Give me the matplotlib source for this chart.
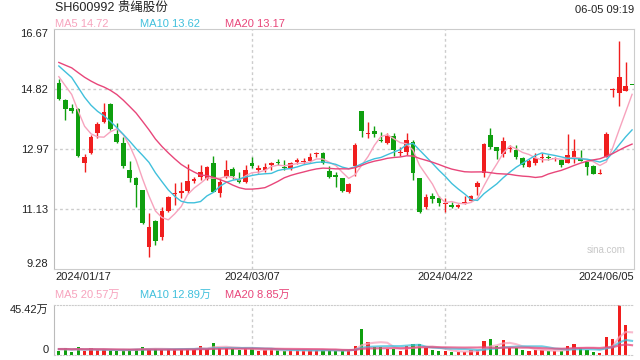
import pandas as pd
import matplotlib
matplotlib.use("Agg")
import matplotlib.pyplot as plt

plt.rcParams['font.family'] = ['Liberation Sans', 'Noto Sans CJK SC', 'DejaVu Sans']

# daily K-line, 2024/01/17 .. 2024/06/05
opens = [15.00, 14.48, 14.25, 14.21, 12.55, 12.86, 13.48, 13.80, 14.36, 13.44,
         13.17, 12.33, 12.09, 11.71, 9.97, 10.76, 10.28, 11.08, 11.60, 11.61,
         11.69, 12.00, 12.10, 12.05, 12.55, 11.61, 12.10, 12.36, 12.04, 11.97,
         12.53, 12.33, 12.33, 12.48, 12.59, 12.43, 12.38, 12.59, 12.58, 12.61,
         12.82, 12.86, 12.30, 12.17, 12.07, 11.66, 12.46, 14.15, 13.44, 13.53,
         13.26, 13.17, 13.37, 12.84, 12.89, 13.20, 12.07, 11.18, 11.53, 11.46,
         11.29, 11.25, 11.18, 11.30, 11.38, 11.80, 12.25, 13.41, 13.03, 12.82,
         12.97, 12.94, 12.69, 12.43, 12.53, 12.69, 12.74, 12.66, 12.64, 12.55,
         12.74, 12.71, 12.56, 12.46, 12.20, 12.74, 14.80, 14.69, 14.77, 14.95]
highs = [15.12, 14.50, 14.36, 14.23, 12.81, 13.41, 13.82, 14.38, 14.38, 13.77,
         13.35, 12.61, 12.12, 11.72, 11.00, 10.78, 11.20, 11.53, 11.92, 11.97,
         12.51, 12.12, 12.49, 12.45, 12.76, 12.07, 12.64, 12.43, 12.28, 12.48,
         12.74, 12.48, 12.53, 12.58, 12.66, 12.64, 12.56, 12.69, 12.71, 12.84,
         12.89, 12.89, 12.46, 12.28, 12.07, 11.92, 13.15, 14.16, 13.82, 13.67,
         13.51, 13.48, 13.46, 13.05, 13.46, 13.25, 12.07, 11.58, 11.61, 11.53,
         11.46, 11.35, 11.27, 11.52, 11.56, 12.00, 13.17, 13.63, 13.05, 13.35,
         13.10, 13.10, 12.72, 12.66, 12.86, 12.84, 12.79, 12.74, 12.66, 13.44,
         13.28, 12.94, 12.59, 12.48, 12.35, 13.51, 14.84, 16.31, 15.64, 14.95]
lows = [14.49, 13.87, 14.07, 12.72, 12.28, 12.83, 13.32, 13.78, 13.55, 13.16,
        12.38, 11.97, 11.20, 10.67, 9.66, 10.02, 10.17, 11.05, 11.25, 11.46,
        11.61, 11.94, 12.03, 12.03, 11.64, 11.51, 12.07, 12.04, 11.92, 11.92,
        12.38, 12.23, 12.28, 12.33, 12.48, 12.33, 12.33, 12.51, 12.51, 12.56,
        12.74, 12.50, 12.07, 11.82, 11.66, 11.62, 12.14, 13.34, 13.30, 13.34,
        13.20, 13.14, 12.75, 12.77, 12.79, 12.02, 11.00, 11.12, 11.32, 11.22,
        11.05, 11.15, 11.15, 11.27, 11.36, 11.56, 12.10, 12.97, 12.66, 12.74,
        12.89, 12.66, 12.41, 12.41, 12.48, 12.58, 12.63, 12.61, 12.41, 12.53,
        12.53, 12.61, 12.17, 12.20, 12.20, 12.72, 14.58, 14.30, 14.77, 14.94]
closes = [14.51, 14.21, 14.15, 12.76, 12.74, 13.35, 13.75, 14.10, 13.58, 13.20,
          12.45, 12.07, 11.87, 10.69, 10.56, 10.14, 11.07, 11.51, 11.62, 11.68,
          11.99, 12.05, 12.26, 12.43, 11.66, 11.97, 12.33, 12.14, 11.97, 12.33,
          12.46, 12.40, 12.43, 12.55, 12.54, 12.38, 12.53, 12.64, 12.61, 12.72,
          12.84, 12.53, 12.12, 12.12, 11.69, 11.89, 13.10, 13.54, 13.48, 13.44,
          13.23, 13.38, 12.94, 12.87, 13.25, 12.25, 11.05, 11.51, 11.43, 11.32,
          11.32, 11.20, 11.25, 11.35, 11.53, 11.94, 13.13, 13.05, 12.92, 13.22,
          13.00, 12.72, 12.48, 12.61, 12.69, 12.72, 12.71, 12.69, 12.48, 12.79,
          12.91, 12.61, 12.41, 12.20, 12.21, 13.44, 14.82, 15.18, 14.91, 14.94]
# volume, 万手
volumes = [3.6, 6.0, 2.7, 7.2, 3.6, 6.0, 4.5, 4.5, 4.5, 3.6,
           4.5, 5.1, 5.7, 7.2, 4.8, 5.4, 4.8, 5.1, 5.4, 5.4,
           5.4, 5.7, 8.1, 5.4, 10.8, 6.6, 6.6, 5.1, 4.2, 6.3,
           5.7, 3.3, 4.5, 5.1, 4.2, 3.6, 4.2, 4.2, 4.2, 4.5,
           4.5, 4.5, 4.5, 3.9, 3.6, 4.5, 8.1, 24.0, 11.7, 7.5,
           6.9, 5.7, 5.1, 3.6, 8.1, 9.9, 9.9, 6.6, 4.5, 3.6,
           3.6, 2.7, 2.7, 3.0, 4.5, 4.5, 12.6, 14.4, 8.1, 13.5,
           6.6, 6.6, 4.5, 3.6, 4.5, 4.5, 3.6, 3.6, 3.6, 8.1,
           9.9, 6.0, 4.5, 3.0, 1.8, 16.2, 14.4, 45.42, 27.0, 0.0]

# days before 01/17, only used so the moving averages start at the left edge
prev_closes = [15.9, 15.8, 15.7, 15.6, 15.7, 15.8, 15.7, 15.6, 15.8, 15.9,
               16.0, 15.9, 15.8, 15.8, 15.8, 15.6, 15.5, 15.3, 15.1]
prev_vols = [5.5, 6.0, 5.0, 5.5, 6.5, 5.0, 5.5, 6.0, 5.0, 5.5,
             6.0, 5.5, 5.0, 6.0, 5.5, 6.0, 5.5, 5.0, 5.5]

date_labels = ['2024/01/17', '2024/03/07', '2024/04/22', '2024/06/05']
date_idx = [0, 30, 60, 89]
price_ticks = [9.28, 11.13, 12.97, 14.82, 16.67]

RED = '#f01e1e'
GREEN = '#0f9f0f'
C5 = '#f7a3bd'
C10 = '#40c0dc'
C20 = '#e8467a'
GRID = '#cccccc'


def ma(prev, vals, n):
    s = pd.Series(prev + vals).rolling(n).mean().values
    return s[len(prev):]


n = len(closes)
xs = list(range(n))
ma5, ma10, ma20 = (ma(prev_closes, closes, k) for k in (5, 10, 20))
vma5, vma10, vma20 = (ma(prev_vols, volumes, k) for k in (5, 10, 20))
colors = [RED if c >= o else GREEN for o, c in zip(opens, closes)]

W, H = 640, 360
fig = plt.figure(figsize=(6.4, 3.6), dpi=100)
ax = fig.add_axes([54 / W, 91 / H, 580 / W, 240 / H])
axv = fig.add_axes([54 / W, 5 / H, 580 / W, 50 / H])

# candles
for i in xs:
    o, h, l, c = opens[i], highs[i], lows[i], closes[i]
    ax.vlines(i, l, h, color=colors[i], lw=1, zorder=2)
    body = max(abs(c - o), 0.03)
    ax.bar(i, body, bottom=min(o, c), width=0.72, color=colors[i], lw=0, zorder=3)

ax.plot(xs, ma5, color=C5, lw=1, zorder=4)
ax.plot(xs, ma10, color=C10, lw=1, zorder=4)
ax.plot(xs, ma20, color=C20, lw=1, zorder=4)

ax.set_xlim(-0.75, 89.3)
ax.set_ylim(9.28, 16.67)
for p in price_ticks[1:-1]:
    ax.axhline(p, color=GRID, lw=1, ls=(0, (2, 2)), zorder=1)
for d in date_idx[1:3]:
    ax.axvline(d, color=GRID, lw=1, ls=(0, (2, 2)), zorder=1)
ax.set_xticks([])
ax.set_yticks(price_ticks)
ax.set_yticklabels(['%.2f' % p for p in price_ticks])
ax.tick_params(axis='y', length=0, labelsize=8, labelcolor='#222', pad=4)
labs = ax.get_yticklabels()
labs[0].set_va('bottom')
labs[-1].set_va('top')
for s in ax.spines.values():
    s.set_color(GRID)
ax.spines['left'].set_color('#bbbbbb')
ax.text(0.985, 0.08, 'sina.com', transform=ax.transAxes, ha='right', va='center',
        fontsize=7, color='#c8c8c8')

# volume
axv.bar(xs, volumes, width=0.5, color=colors, lw=0, zorder=2)
axv.plot(xs, vma5, color=C5, lw=1.5, alpha=0.75, zorder=3)
axv.plot(xs, vma10, color=C10, lw=1.5, alpha=0.75, zorder=3)
axv.plot(xs, vma20, color=C20, lw=1.5, alpha=0.75, zorder=3)
axv.set_xlim(-0.75, 89.3)
axv.set_ylim(0, max(volumes))
for d in date_idx[1:3]:
    axv.axvline(d, color=GRID, lw=1, ls=(0, (2, 2)), zorder=1)
axv.set_xticks([])
axv.set_yticks([0, max(volumes)])
axv.set_yticklabels(['0', '%.2f万' % max(volumes)])
axv.tick_params(axis='y', length=0, labelsize=8, labelcolor='#222', pad=4)
vl = axv.get_yticklabels()
vl[0].set_va('bottom')
vl[1].set_va('top')
for s in axv.spines.values():
    s.set_color(GRID)
axv.spines['top'].set_linestyle(':')
axv.spines['bottom'].set_linestyle(':')
axv.spines['right'].set_visible(False)
axv.spines['left'].set_color('#bbbbbb')


def px(x, y):
    return x / W, 1 - y / H


fig.text(*px(55, 8), 'SH600992 贵绳股份', fontsize=9, color='#222', va='center')
fig.text(*px(634, 10), '06-05 09:19', fontsize=8, color='#222', va='center', ha='right')
fig.text(*px(55, 24), 'MA5 %.2f' % 14.72, fontsize=8, color=C5, va='center')
fig.text(*px(140, 24), 'MA10 %.2f' % 13.62, fontsize=8, color=C10, va='center')
fig.text(*px(225, 24), 'MA20 %.2f' % 13.17, fontsize=8, color=C20, va='center')

for lab, d in zip(date_labels, date_idx):
    x = 54 + (d + 0.75) * 580 / 90.05
    ha = 'center'
    if d == 0:
        x, ha = 55, 'left'
    elif d == date_idx[-1]:
        x, ha = 634, 'right'
    fig.text(*px(x, 277), lab, fontsize=8, color='#222', va='center', ha=ha)

fig.text(*px(55, 295), 'MA5 %.2f万' % 20.57, fontsize=8, color=C5, va='center')
fig.text(*px(140, 295), 'MA10 %.2f万' % 12.89, fontsize=8, color=C10, va='center')
fig.text(*px(225, 295), 'MA20 %.2f万' % 8.85, fontsize=8, color=C20, va='center')

fig.savefig('out.png', dpi=100)
